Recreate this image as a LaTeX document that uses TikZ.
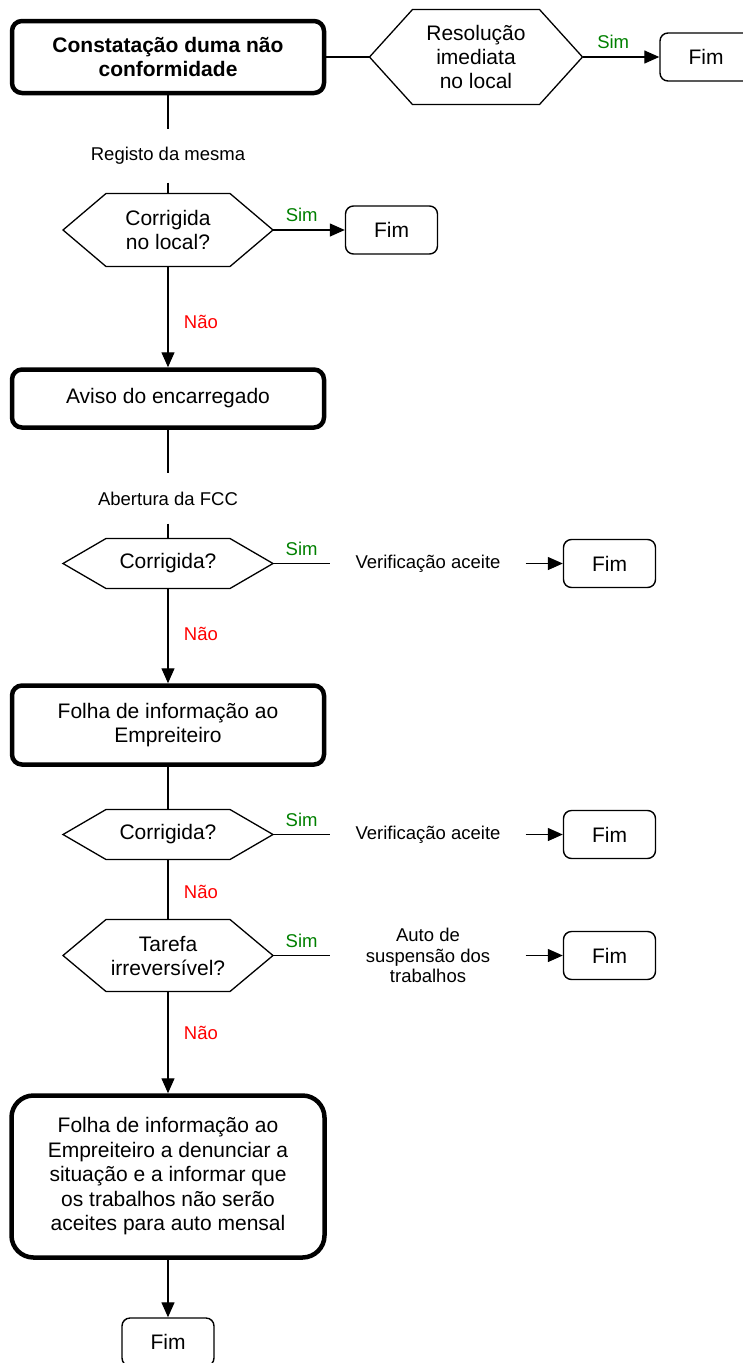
\documentclass[tikz,border=0pt]{standalone}
\usepackage{fontspec}
\setmainfont{Liberation Sans}
\usetikzlibrary{arrows.meta}
\definecolor{simverde}{RGB}{0,128,0}
\definecolor{naovermelho}{RGB}{255,0,0}
\tikzset{
  passo/.style={draw, line width=4.5pt, rounded corners=10pt, minimum width=312pt, align=center, font=\fontsize{21}{24.5}\selectfont},
  fim/.style={draw, line width=1.4pt, rounded corners=8pt, minimum width=92pt, minimum height=48pt, font=\fontsize{21}{24.5}\selectfont},
  quest/.style={minimum width=210pt, inner sep=0pt, outer sep=0pt, align=center, font=\fontsize{21}{24}\selectfont},
  rotulo/.style={align=center, font=\fontsize{18.5}{20.5}\selectfont},
  sim/.style={text=simverde, font=\fontsize{18.5}{20}\selectfont, above=4pt},
  nao/.style={text=naovermelho, font=\fontsize{18.5}{20}\selectfont, right=12pt},
}
\begin{document}
\begin{tikzpicture}[x=1pt, y=-1pt, line width=1.3pt, >={Triangle[length=15pt,width=13pt]}]
\useasboundingbox (0,0) rectangle (742,1363);
\node[passo, minimum height=72pt, font=\fontsize{21}{24.5}\selectfont\bfseries] (inicio) at (168,57) {Constatação duma não\\conformidade};
\node[quest, minimum width=213pt, minimum height=95pt] (q0) at (476,57) {Resolução\\imediata\\no local};
\node[fim] (fim0) at (706,57) {Fim};
\node[rotulo, minimum height=52pt] (registo) at (168,156) {Registo da mesma};
\node[quest, minimum height=73pt] (q1) at (168,230) {Corrigida\\no local?};
\node[fim] (fim1) at (391.5,230) {Fim};
\node[passo, minimum height=58pt] (aviso) at (168,398.5) {Aviso do encarregado};
\node[rotulo, minimum height=49pt] (fcc) at (168,498.5) {Abertura da FCC};
\node[quest, minimum height=50pt] (q2) at (168,563.5) {Corrigida?};
\node[rotulo, minimum width=194pt] (verif1) at (428,563.5) {Verificação aceite};
\node[fim] (fim2) at (609.5,563.5) {Fim};
\node[passo, minimum height=79pt] (folha) at (168,725) {Folha de informação ao\\Empreiteiro};
\node[quest, minimum height=50pt] (q3) at (168,834.5) {Corrigida?};
\node[rotulo, minimum width=194pt] (verif2) at (428,834.5) {Verificação aceite};
\node[fim] (fim3) at (609.5,834.5) {Fim};
\node[quest, minimum height=72pt] (q4) at (168,955.5) {Tarefa\\irreversível?};
\node[rotulo, minimum width=194pt] (auto) at (428,955.5) {Auto de\\suspensão dos\\trabalhos};
\node[fim] (fim4) at (609.5,955.5) {Fim};
\node[passo, rounded corners=22pt, minimum width=313pt, minimum height=162pt] (folha2) at (168,1176.5) {Folha de informação ao\\Empreiteiro a denunciar a\\situação e a informar que\\os trabalhos não serão\\aceites para auto mensal};
\node[fim] (fim5) at (168,1342) {Fim};
% hexagonos das perguntas
\foreach \q in {q0,q1,q2,q3,q4}
  \draw (\q.west) -- ([xshift=43pt]\q.north west) -- ([xshift=-43pt]\q.north east) -- (\q.east) -- ([xshift=-43pt]\q.south east) -- ([xshift=43pt]\q.south west) -- cycle;
\draw (inicio) -- (q0);
\draw[->] (q0) -- node[sim, pos=.4]{Sim} (fim0);
\draw (inicio) -- (registo);
\draw (registo) -- (q1);
\draw[->] (q1) -- node[sim, pos=.4]{Sim} (fim1);
\draw[->] (q1) -- node[nao, pos=.55]{Não} (aviso);
\draw (aviso) -- (fcc);
\draw (fcc) -- (q2);
\draw (q2) -- node[sim]{Sim} (verif1);
\draw[->] (verif1) -- (fim2);
\draw[->] (q2) -- node[nao, pos=.48]{Não} (folha);
\draw (folha) -- (q3);
\draw (q3) -- node[sim]{Sim} (verif2);
\draw[->] (verif2) -- (fim3);
\draw (q3) -- node[nao, pos=.54]{Não} (q4);
\draw (q4) -- node[sim]{Sim} (auto);
\draw[->] (auto) -- (fim4);
\draw[->] (q4) -- node[nao, pos=.41]{Não} (folha2);
\draw[->] (folha2) -- (fim5);
\end{tikzpicture}
\end{document}
